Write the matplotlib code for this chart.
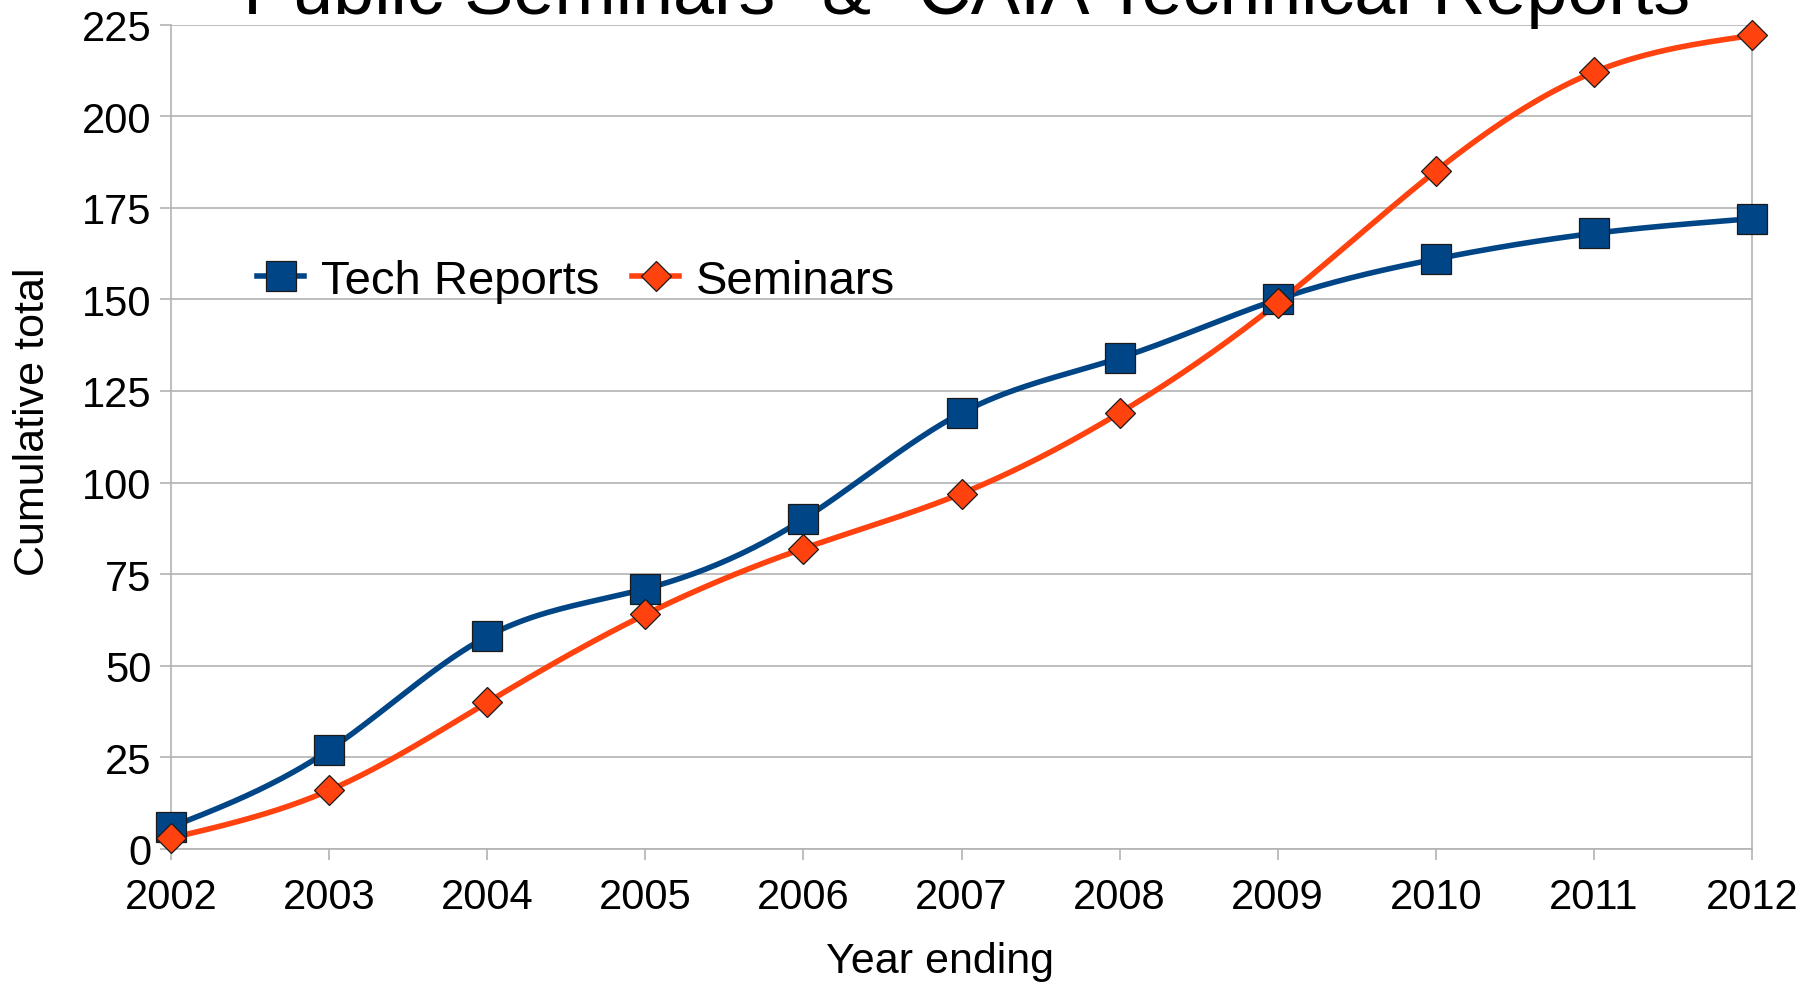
#!/usr/bin/env python

import numpy as np
import matplotlib
matplotlib.use('Agg')
import matplotlib.pyplot as plt

years = [2002, 2003, 2004, 2005, 2006, 2007, 2008, 2009, 2010, 2011, 2012]
tech_reports = [6, 27, 58, 71, 90, 119, 134, 150, 161, 168, 172]
seminars = [3, 16, 40, 64, 82, 97, 119, 149, 185, 212, 222]
yticks = [0, 25, 50, 75, 100, 125, 150, 175, 200, 225]

BLUE = '#004586'
ORANGE = '#ff420e'
GRID = '#b3b3b3'


def natural_spline(x, y, n=400):
    # natural cubic spline, the smooth line the original chart was drawn with
    x = np.asarray(x, float)
    y = np.asarray(y, float)
    k = len(x)
    h = np.diff(x)
    A = np.zeros((k, k))
    b = np.zeros(k)
    A[0, 0] = A[-1, -1] = 1
    for i in range(1, k - 1):
        A[i, i - 1] = h[i - 1]
        A[i, i] = 2 * (h[i - 1] + h[i])
        A[i, i + 1] = h[i]
        b[i] = 6 * ((y[i + 1] - y[i]) / h[i] - (y[i] - y[i - 1]) / h[i - 1])
    M = np.linalg.solve(A, b)
    xs = np.linspace(x[0], x[-1], n)
    idx = np.clip(np.searchsorted(x, xs) - 1, 0, k - 2)
    x0, x1 = x[idx], x[idx + 1]
    hh = x1 - x0
    t0, t1 = x1 - xs, xs - x0
    ys = (M[idx] * t0 ** 3 + M[idx + 1] * t1 ** 3) / (6 * hh) \
        + (y[idx] / hh - M[idx] * hh / 6) * t0 \
        + (y[idx + 1] / hh - M[idx + 1] * hh / 6) * t1
    return xs, ys


plt.rcParams['font.family'] = ['Liberation Sans', 'DejaVu Sans']

fig = plt.figure(figsize=(18.18, 9.87), dpi=100)
ax = fig.add_axes([171 / 1818., 1 - 850 / 987., (1752 - 171) / 1818., (850 - 25.5) / 987.])

for vals, col, mk, ms, lab in [(tech_reports, BLUE, 's', 22, 'Tech Reports'),
                               (seminars, ORANGE, 'D', 15.5, 'Seminars')]:
    xs, ys = natural_spline(years, vals)
    ax.plot(xs, ys, color=col, lw=4, solid_capstyle='round', clip_on=False, zorder=3)
    ax.plot(years, vals, linestyle='none', marker=mk, ms=ms, mfc=col,
            mec='#1a1a1a', mew=0.9, clip_on=False, zorder=4)
    # proxy for the legend: line with a marker in the middle
    ax.plot([], [], color=col, lw=4, marker=mk, ms=ms, mfc=col,
            mec='#1a1a1a', mew=0.9, label=lab)

ax.set_xlim(2002, 2012)
ax.set_ylim(0, 225)
ax.set_xticks(years)
ax.set_yticks(yticks)
ax.grid(axis='y', color=GRID, lw=1.2)
ax.set_axisbelow(True)
for s in ax.spines.values():
    s.set_color(GRID)
    s.set_linewidth(1.2)
ax.spines['top'].set_visible(False)
ax.tick_params(axis='both', colors=GRID, labelcolor='black', labelsize=30,
               length=8, width=1.2)
ax.tick_params(axis='x', pad=12)
ax.tick_params(axis='y', pad=6)

ax.set_xlabel('Year ending', fontsize=31)
ax.set_ylabel('Cumulative total', fontsize=31)

leg = fig.legend(loc='center left', bbox_to_anchor=(257 / 1818., 1 - 282 / 987.),
                 ncol=2, frameon=False, fontsize=34, handlelength=1.0,
                 handletextpad=0.35, columnspacing=0.7, borderpad=0,
                 borderaxespad=0, numpoints=1)

# title sits partly above the top edge, as in the original
fig.text(967 / 1818., 1 - 14 / 987., '"Public Seminars" & "CAIA Technical Reports"',
         ha='center', va='baseline', fontsize=53)

# place axis labels where the reference has them
ax.xaxis.set_label_coords(940 / 1818., 1 - 962 / 987., transform=fig.transFigure)
ax.xaxis.label.set_va('center')
ax.yaxis.set_label_coords(33 / 1818., 1 - 422 / 987., transform=fig.transFigure)
ax.yaxis.label.set_va('center')

fig.savefig('out.png', dpi=100)
